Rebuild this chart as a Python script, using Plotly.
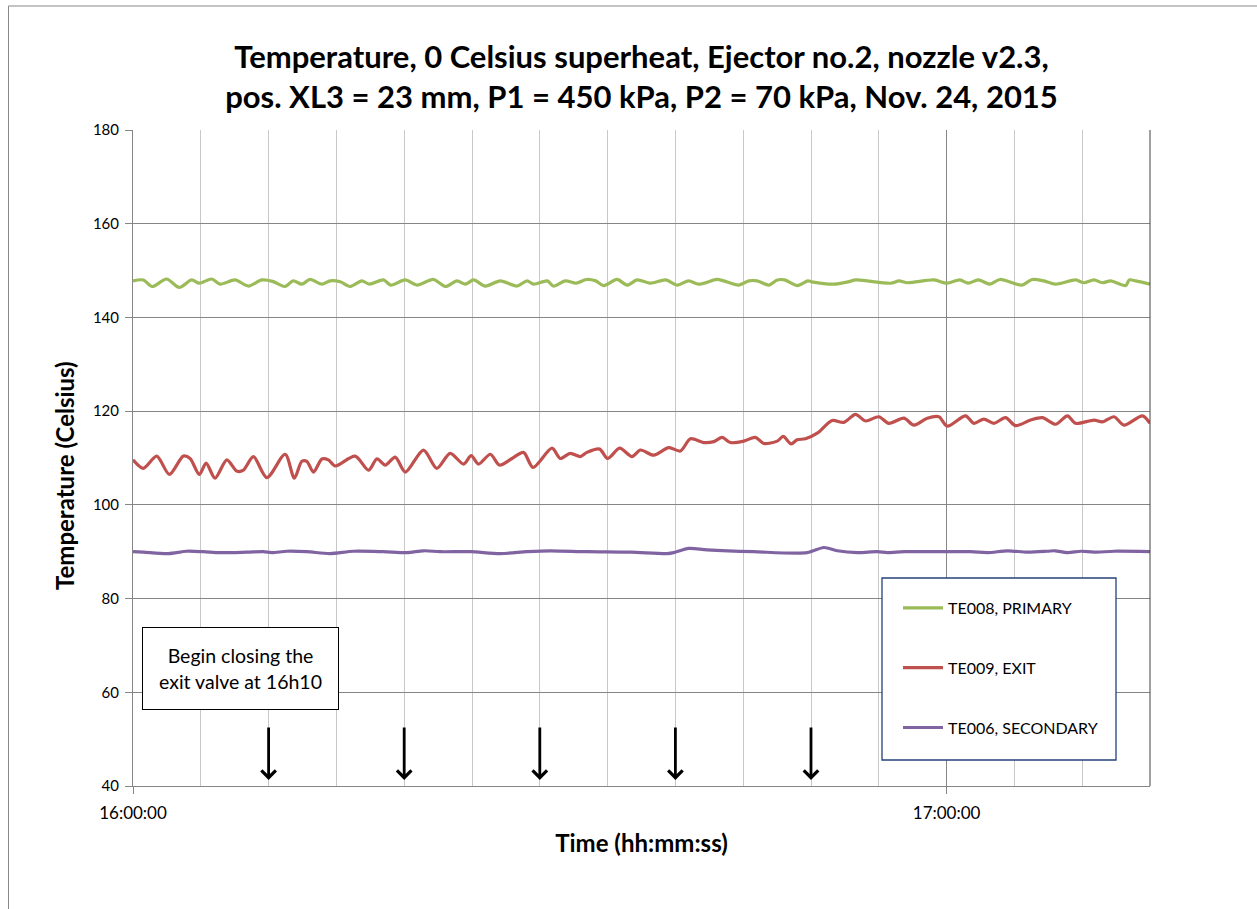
import pandas as pd
import plotly.graph_objects as go

# Start of the recording
T0 = pd.Timestamp("2015-11-24 16:00:00")

# TE008, primary inlet temperature (minutes after 16:00, Celsius)
primary_min = [0.0, 0.76, 1.42, 2.48, 3.41, 4.33, 4.89, 5.8, 6.42, 7.53, 8.51, 9.5, 10.3, 11.2, 11.82,
               12.45, 13.06, 13.93, 14.54, 15.28, 16.0, 16.87, 17.43, 18.47, 19.01, 20.07, 20.94, 22.16,
               23.03, 23.89, 24.51, 25.12, 25.98, 27.09, 28.32, 29.06, 29.55, 30.56, 31.0, 31.88, 32.69,
               33.43, 34.12, 34.7, 35.7, 36.44, 37.18, 38.17, 39.29, 40.15, 40.97, 41.72, 43.07, 43.56,
               44.67, 45.41, 46.03, 46.9, 47.52, 48.05, 49.0, 49.77, 50.05, 51.73, 52.72, 53.34, 55.88,
               56.49, 57.11, 59.08, 60.0, 60.98, 61.59, 62.33, 63.2, 63.94, 65.55, 66.3, 67.17, 68.03,
               69.51, 70.13, 70.87, 71.49, 72.1, 73.21, 73.47, 73.95, 75.0]
primary_val = [147.8, 148.0, 146.6, 148.2, 146.4, 148.0, 147.3, 148.2, 147.1, 148.0, 146.7, 148.0, 147.7,
               146.6, 147.8, 147.1, 148.1, 147.1, 147.8, 147.6, 146.6, 147.8, 147.1, 148.0, 146.9, 148.0,
               146.9, 148.1, 146.6, 147.8, 147.1, 148.0, 146.7, 147.8, 146.7, 147.8, 147.1, 147.8, 146.7,
               147.8, 147.3, 148.1, 147.8, 146.8, 148.1, 146.9, 148.0, 147.3, 148.0, 146.9, 147.8, 147.1,
               148.1, 147.8, 146.9, 147.8, 147.8, 146.9, 148.0, 148.0, 146.8, 147.8, 147.6, 147.1, 147.6,
               148.0, 147.3, 147.8, 147.4, 148.0, 147.3, 148.0, 147.3, 148.0, 147.1, 148.1, 146.9, 148.1,
               147.8, 147.1, 148.0, 147.4, 148.0, 147.4, 147.8, 146.8, 148.0, 147.8, 147.1, 147.6]
primary_min = primary_min[:len(primary_val)]

# TE009, ejector exit temperature
exit_min = [0.0, 0.76, 1.75, 2.68, 3.71, 4.21, 4.89, 5.39, 6.05, 6.92, 7.65, 8.14, 8.88, 9.87, 11.22,
            11.9, 12.45, 12.82, 13.31, 13.93, 14.41, 14.91, 16.38, 17.37, 17.99, 18.6, 19.34, 20.08,
            21.42, 22.41, 23.39, 24.38, 24.94, 25.48, 26.35, 27.03, 27.95, 28.8, 29.5, 30.9, 31.51,
            32.25, 32.99, 33.48, 34.41, 35.0, 35.89, 36.8, 37.42, 38.4, 39.51, 40.37, 41.11, 42.09,
            42.83, 43.45, 44.06, 45.04, 45.9, 46.52, 47.51, 47.95, 48.54, 48.98, 49.59, 50.46, 51.56,
            52.42, 53.28, 54.02, 55.0, 55.74, 56.85, 57.59, 58.58, 59.43, 60.05, 61.4, 62.01, 62.75,
            63.49, 64.35, 65.09, 66.2, 67.06, 68.04, 68.91, 69.52, 70.87, 71.49, 72.35, 73.08, 74.44,
            75.0]
exit_val = [109.6, 107.8, 110.4, 106.5, 110.4, 109.9, 106.5, 108.9, 105.7, 109.6, 107.2, 107.4, 110.3,
            105.8, 110.8, 105.7, 109.3, 109.3, 107.0, 109.8, 109.6, 108.3, 110.4, 107.4, 109.8, 108.5,
            110.2, 107.0, 111.7, 107.8, 111.0, 108.7, 110.5, 108.7, 110.8, 108.5, 109.9, 111.2, 108.0,
            112.1, 109.9, 111.0, 110.3, 111.2, 111.9, 109.9, 112.1, 110.3, 111.7, 110.6, 112.2, 111.5,
            114.1, 113.3, 113.5, 114.4, 113.3, 113.6, 114.4, 113.1, 113.6, 114.6, 113.0, 113.9, 114.1,
            115.3, 118.0, 117.6, 119.3, 117.9, 118.8, 117.4, 118.5, 117.0, 118.5, 118.8, 116.8, 119.0,
            117.4, 118.3, 117.4, 118.6, 116.9, 118.1, 118.6, 117.2, 119.0, 117.4, 118.1, 117.7, 118.8,
            117.0, 119.0, 117.4]

# TE006, secondary inlet temperature
secondary_min = [0.0, 0.76, 2.6, 3.95, 5.18, 6.42, 8.39, 9.62, 10.24, 11.35, 12.82, 14.54, 16.26, 18.47,
                 20.2, 21.42, 22.66, 24.87, 27.09, 29.06, 30.77, 33.48, 36.68, 39.39, 39.88, 40.99,
                 42.34, 45.78, 49.72, 50.95, 51.94, 53.41, 54.89, 55.63, 56.86, 59.32, 61.8, 63.02,
                 64.5, 65.97, 67.45, 68.0, 68.92, 69.9, 70.86, 72.35, 75.0]
secondary_val = [90.0, 89.9, 89.6, 90.1, 90.0, 89.8, 89.9, 90.0, 89.8, 90.1, 90.0, 89.6, 90.1, 90.0,
                 89.8, 90.2, 90.0, 90.0, 89.6, 90.0, 90.2, 90.0, 89.9, 89.6, 89.8, 90.7, 90.4, 90.0,
                 89.8, 90.9, 90.2, 89.8, 90.0, 89.8, 90.0, 90.0, 90.0, 89.8, 90.2, 89.9, 90.1, 90.2,
                 89.8, 90.1, 89.9, 90.1, 90.0]

# Exit valve closing steps (minutes after 16:00) and arrow extent (Celsius)
arrow_min = [10, 20, 30, 40, 50]
arrow_top, arrow_tip = 52.8, 41.3

series = [
    ("TE008, PRIMARY", primary_min, primary_val, "#9BBB59"),
    ("TE009, EXIT", exit_min, exit_val, "#C0504D"),
    ("TE006, SECONDARY", secondary_min, secondary_val, "#8064A2"),
]


def to_time(minutes):
    return T0 + pd.to_timedelta(minutes, unit="min")


FONT = "Lato"
fig = go.Figure()
for i, (name, mins, vals, color) in enumerate(series):
    fig.add_trace(go.Scatter(
        x=to_time(mins), y=vals, mode="lines", name=name,
        line=dict(color=color, width=3.2, shape="spline", smoothing=0.8),
        legendgroup=f"g{i}",
    ))

for m in arrow_min:
    t = T0 + pd.Timedelta(minutes=m)
    fig.add_annotation(
        x=t, y=arrow_tip, ax=t, ay=arrow_top, xref="x", yref="y", axref="x", ayref="y",
        text="", showarrow=True, arrowhead=4, arrowsize=1.0, arrowwidth=2.8, arrowcolor="black",
    )

fig.add_annotation(
    x=T0 + pd.Timedelta(minutes=7.9), y=65.0, xref="x", yref="y",
    text="Begin closing the<br>exit valve at 16h10", showarrow=False,
    font=dict(family=FONT, size=19.5, color="black"),
    bgcolor="white", bordercolor="black", borderwidth=1, borderpad=0,
    width=195, height=81, align="center",
)

# Vertical axis title, placed slightly below the plot-area centre
fig.add_annotation(
    x=(64 - 133) / 1017, y=(786 - 476) / 656, xref="paper", yref="paper",
    text="<b>Temperature (Celsius)</b>", textangle=-90, showarrow=False,
    font=dict(family=FONT, size=24, color="black"), xanchor="center", yanchor="middle",
)

# Legend frame, outer chart frame and right edge of the plot area
fig.add_shape(type="rect", xref="paper", yref="paper",
              x0=(882 - 133) / 1017, x1=(1116 - 133) / 1017,
              y0=(786 - 760) / 656, y1=(786 - 578) / 656,
              line=dict(color="#24427A", width=1.3), fillcolor="white", layer="above")
fig.add_shape(type="rect", xref="paper", yref="paper",
              x0=(8.5 - 133) / 1017, x1=1.3, y0=-0.3, y1=(786 - 6) / 656,
              line=dict(color="#888888", width=1), layer="below")
fig.add_shape(type="line", xref="paper", yref="paper", x0=1, x1=1, y0=0, y1=1,
              line=dict(color="#404040", width=1), layer="above")

fig.update_layout(
    width=1257, height=909,
    margin=dict(l=133, r=107, t=130, b=123),
    paper_bgcolor="white", plot_bgcolor="white",
    font=dict(family=FONT, color="black"),
    title=dict(
        text="<b>Temperature, 0 Celsius superheat, Ejector no.2, nozzle v2.3,<br>"
             "pos. XL3 = 23 mm, P1 = 450 kPa, P2 = 70 kPa, Nov. 24, 2015</b>",
        x=(641.5) / 1257, xanchor="center", y=1 - 68 / 909, yanchor="top",
        font=dict(family=FONT, size=31, color="black"),
    ),
    legend=dict(
        x=(898 - 133) / 1017, y=(786 - 591) / 656, xanchor="left", yanchor="top",
        bgcolor="rgba(0,0,0,0)", borderwidth=0, tracegroupgap=36,
        font=dict(family=FONT, size=16, color="black"), itemwidth=40,
    ),
    showlegend=True,
)

fig.update_xaxes(
    type="date", range=[T0, T0 + pd.Timedelta(minutes=75)],
    tick0=T0, dtick=3600000, tickformat="%H:%M:%S",
    ticks="outside", ticklen=7, tickcolor="#868686", ticklabelstandoff=5,
    showline=True, linecolor="#868686", linewidth=1,
    showgrid=True, gridcolor="#868686", gridwidth=1,
    minor=dict(dtick=300000, showgrid=True, gridcolor="#C8C8C8", gridwidth=1),
    tickfont=dict(family=FONT, size=17, color="black"),
    title=dict(text="<b>Time (hh:mm:ss)</b>", font=dict(family=FONT, size=24, color="black"), standoff=12),
    zeroline=False,
)
fig.update_yaxes(
    range=[40, 180], dtick=20, tick0=40,
    ticks="outside", ticklen=7, tickcolor="#868686", ticklabelstandoff=3,
    showline=True, linecolor="#868686", linewidth=1,
    showgrid=True, gridcolor="#868686", gridwidth=1,
    tickfont=dict(family=FONT, size=15, color="black"),
    zeroline=False,
)

fig.write_html("out.html")
